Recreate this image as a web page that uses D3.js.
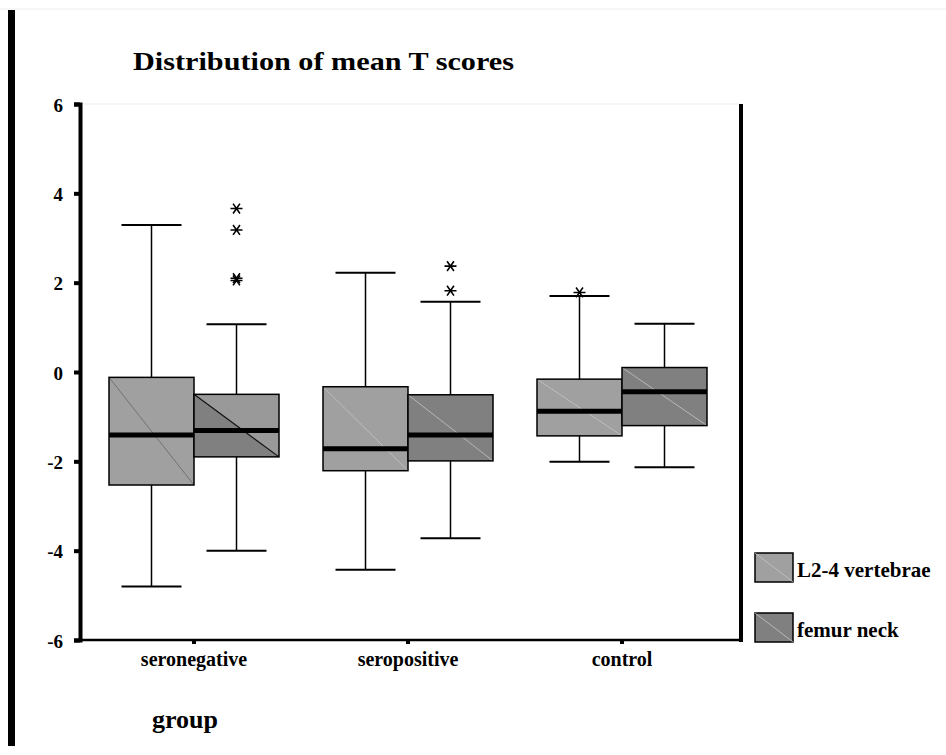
<!DOCTYPE html>
<html>
<head>
<meta charset="utf-8">
<script src="https://cdn.jsdelivr.net/npm/d3@7"></script>
<style>
  body { margin: 0; background: #fff; }
  svg text { font-family: "Liberation Serif", "Times New Roman", serif; font-weight: bold; fill: #000; }
</style>
</head>
<body>
<svg id="chart" width="946" height="755"></svg>
<script>
    // groups on the x axis and the two measured sites
    var groups = ['seronegative', 'seropositive', 'control'];
    var series = ['L2-4 vertebrae', 'femur neck'];
    var yTicks = [6, 4, 2, 0, -2, -4, -6];

    // five-number summaries, one value per group
    var l24Low = [-4.8, -4.43, -2.01];
    var l24Q1 = [-2.53, -2.21, -1.43];
    var l24Median = [-1.41, -1.72, -0.88];
    var l24Q3 = [-0.12, -0.33, -0.16];
    var l24High = [3.29, 2.22, 1.70];
    var l24Outliers = [[], [], [1.78]];

    var femurLow = [-4.0, -3.72, -2.13];
    var femurQ1 = [-1.9, -1.99, -1.2];
    var femurMedian = [-1.31, -1.41, -0.44];
    var femurQ3 = [-0.5, -0.51, 0.1];
    var femurHigh = [1.07, 1.57, 1.08];
    var femurOutliers = [[3.66, 3.18, 2.1, 2.05], [2.37, 1.82], []];

    var fills = ['#a0a0a0', '#808080'];

    var stats = [
        {low: l24Low, q1: l24Q1, med: l24Median, q3: l24Q3, high: l24High, out: l24Outliers},
        {low: femurLow, q1: femurQ1, med: femurMedian, q3: femurQ3, high: femurHigh, out: femurOutliers}
    ];

    var svg = d3.select('#chart');

    var plotTop = 104, plotBottom = 640, plotLeft = 80, plotRight = 741;

    var y = d3.scaleLinear().domain([-6, 6]).range([plotBottom, plotTop]);
    var x = d3.scaleBand().domain(groups).range([87, 729]);
    var xs = d3.scaleBand().domain(series).range([-85, 85]);

    // page frame bits
    svg.append('line').attr('x1', 0).attr('x2', 946).attr('y1', 9).attr('y2', 9)
        .attr('stroke', '#eeeeee').attr('stroke-width', 1);
    svg.append('rect').attr('x', 8).attr('y', 10).attr('width', 7).attr('height', 736).attr('fill', '#000');

    // title
    svg.append('text')
        .attr('x', 133).attr('y', 70)
        .attr('font-size', 25)
        .attr('textLength', 381).attr('lengthAdjust', 'spacingAndGlyphs')
        .text('Distribution of mean T  scores');

    // plot frame
    svg.append('line').attr('x1', plotLeft).attr('x2', plotRight).attr('y1', plotTop).attr('y2', plotTop)
        .attr('stroke', '#eeeeee');
    svg.append('line').attr('x1', plotRight).attr('x2', plotRight).attr('y1', plotTop).attr('y2', plotBottom + 2)
        .attr('stroke', '#000').attr('stroke-width', 4);

    // y axis
    var yAxis = d3.axisLeft(y).tickValues(yTicks).tickSize(6).tickPadding(11)
        .tickFormat(function(d) { return String(d); });
    var gy = svg.append('g').attr('transform', 'translate(' + plotLeft + ',0)').call(yAxis);
    gy.select('.domain').attr('stroke', '#000').attr('stroke-width', 4);
    gy.selectAll('.tick line').attr('stroke', '#000').attr('stroke-width', 4);
    gy.selectAll('text').attr('font-size', 19).attr('dy', '0.38em')
        .style('font-family', '"Liberation Serif", serif').style('font-weight', 'bold');

    // x axis
    var xAxis = d3.axisBottom(x).tickSize(4).tickPadding(10).tickSizeOuter(0);
    var gx = svg.append('g').attr('transform', 'translate(0,' + plotBottom + ')').call(xAxis);
    gx.select('.domain').attr('d', 'M' + (plotLeft - 2) + ',0H' + plotRight).attr('stroke', '#000').attr('stroke-width', 2.5);
    gx.selectAll('.tick line').attr('stroke', '#000').attr('stroke-width', 4);
    gx.selectAll('text').attr('font-size', 20).attr('dy', '0.62em')
        .style('font-family', '"Liberation Serif", serif').style('font-weight', 'bold');

    // x axis title
    svg.append('text').attr('x', 152).attr('y', 728).attr('font-size', 26).text('group');

    // boxes
    var boxW = xs.bandwidth();
    var capW = 60;

    groups.forEach(function(g, gi) {
        series.forEach(function(s, si) {
            var st = stats[si];
            var x0 = x(g) + x.bandwidth() / 2 + xs(s);
            var cx = x0 + boxW / 2;
            var box = svg.append('g');

            // whisker
            box.append('line').attr('x1', cx).attr('x2', cx)
                .attr('y1', y(st.high[gi])).attr('y2', y(st.low[gi]))
                .attr('stroke', '#000').attr('stroke-width', 1.5);
            [st.high[gi], st.low[gi]].forEach(function(v) {
                box.append('line').attr('x1', cx - capW / 2).attr('x2', cx + capW / 2)
                    .attr('y1', y(v)).attr('y2', y(v))
                    .attr('stroke', '#000').attr('stroke-width', 2);
            });

            var yt = y(st.q3[gi]), yb = y(st.q1[gi]);
            box.append('rect').attr('x', x0).attr('y', yt)
                .attr('width', boxW).attr('height', yb - yt)
                .attr('fill', fills[si]);

            if (gi === 0 && si === 1) {
                // odd shading in the first femur box
                box.append('path')
                    .attr('d', 'M' + x0 + ',' + yt + 'L' + (x0 + boxW) + ',' + yt + 'L' + (x0 + boxW) + ',' + yb + 'Z')
                    .attr('fill', '#999999');
            }
            box.append('line').attr('x1', x0).attr('y1', yt).attr('x2', x0 + boxW).attr('y2', yb)
                .attr('stroke', gi === 0 ? (si === 1 ? '#111' : '#666') : '#c4c4c4')
                .attr('stroke-width', gi === 0 && si === 1 ? 1.2 : 0.8);

            box.append('rect').attr('x', x0).attr('y', yt)
                .attr('width', boxW).attr('height', yb - yt)
                .attr('fill', 'none').attr('stroke', '#000').attr('stroke-width', 1.5);

            box.append('line').attr('x1', x0).attr('x2', x0 + boxW)
                .attr('y1', y(st.med[gi])).attr('y2', y(st.med[gi]))
                .attr('stroke', '#000').attr('stroke-width', 5);

            // extreme values as asterisks
            st.out[gi].forEach(function(v) {
                var py = y(v), r = 6;
                var d = 'M' + (cx - r) + ',' + py + 'H' + (cx + r);
                [55, -55].forEach(function(a) {
                    var dx = r * Math.cos(a * Math.PI / 180), dy = r * Math.sin(a * Math.PI / 180);
                    d += 'M' + (cx - dx) + ',' + (py - dy) + 'L' + (cx + dx) + ',' + (py + dy);
                });
                box.append('path').attr('d', d).attr('stroke', '#000').attr('stroke-width', 1.6).attr('fill', 'none');
            });
        });
    });

    // legend
    var legend = svg.append('g').selectAll('g').data(series).enter().append('g')
        .attr('transform', function(d, i) { return 'translate(755,' + (553 + i * 60) + ')'; });
    legend.append('rect').attr('width', 38).attr('height', 29)
        .attr('fill', function(d, i) { return fills[i]; })
        .attr('stroke', '#000').attr('stroke-width', 1.5);
    legend.append('line').attr('x1', 0).attr('y1', 0).attr('x2', 38).attr('y2', 29)
        .attr('stroke', '#c4c4c4').attr('stroke-width', 0.8);
    legend.append('text').attr('x', 42).attr('y', 24).attr('font-size', 21)
        .text(function(d) { return d; });
</script>
</body>
</html>
